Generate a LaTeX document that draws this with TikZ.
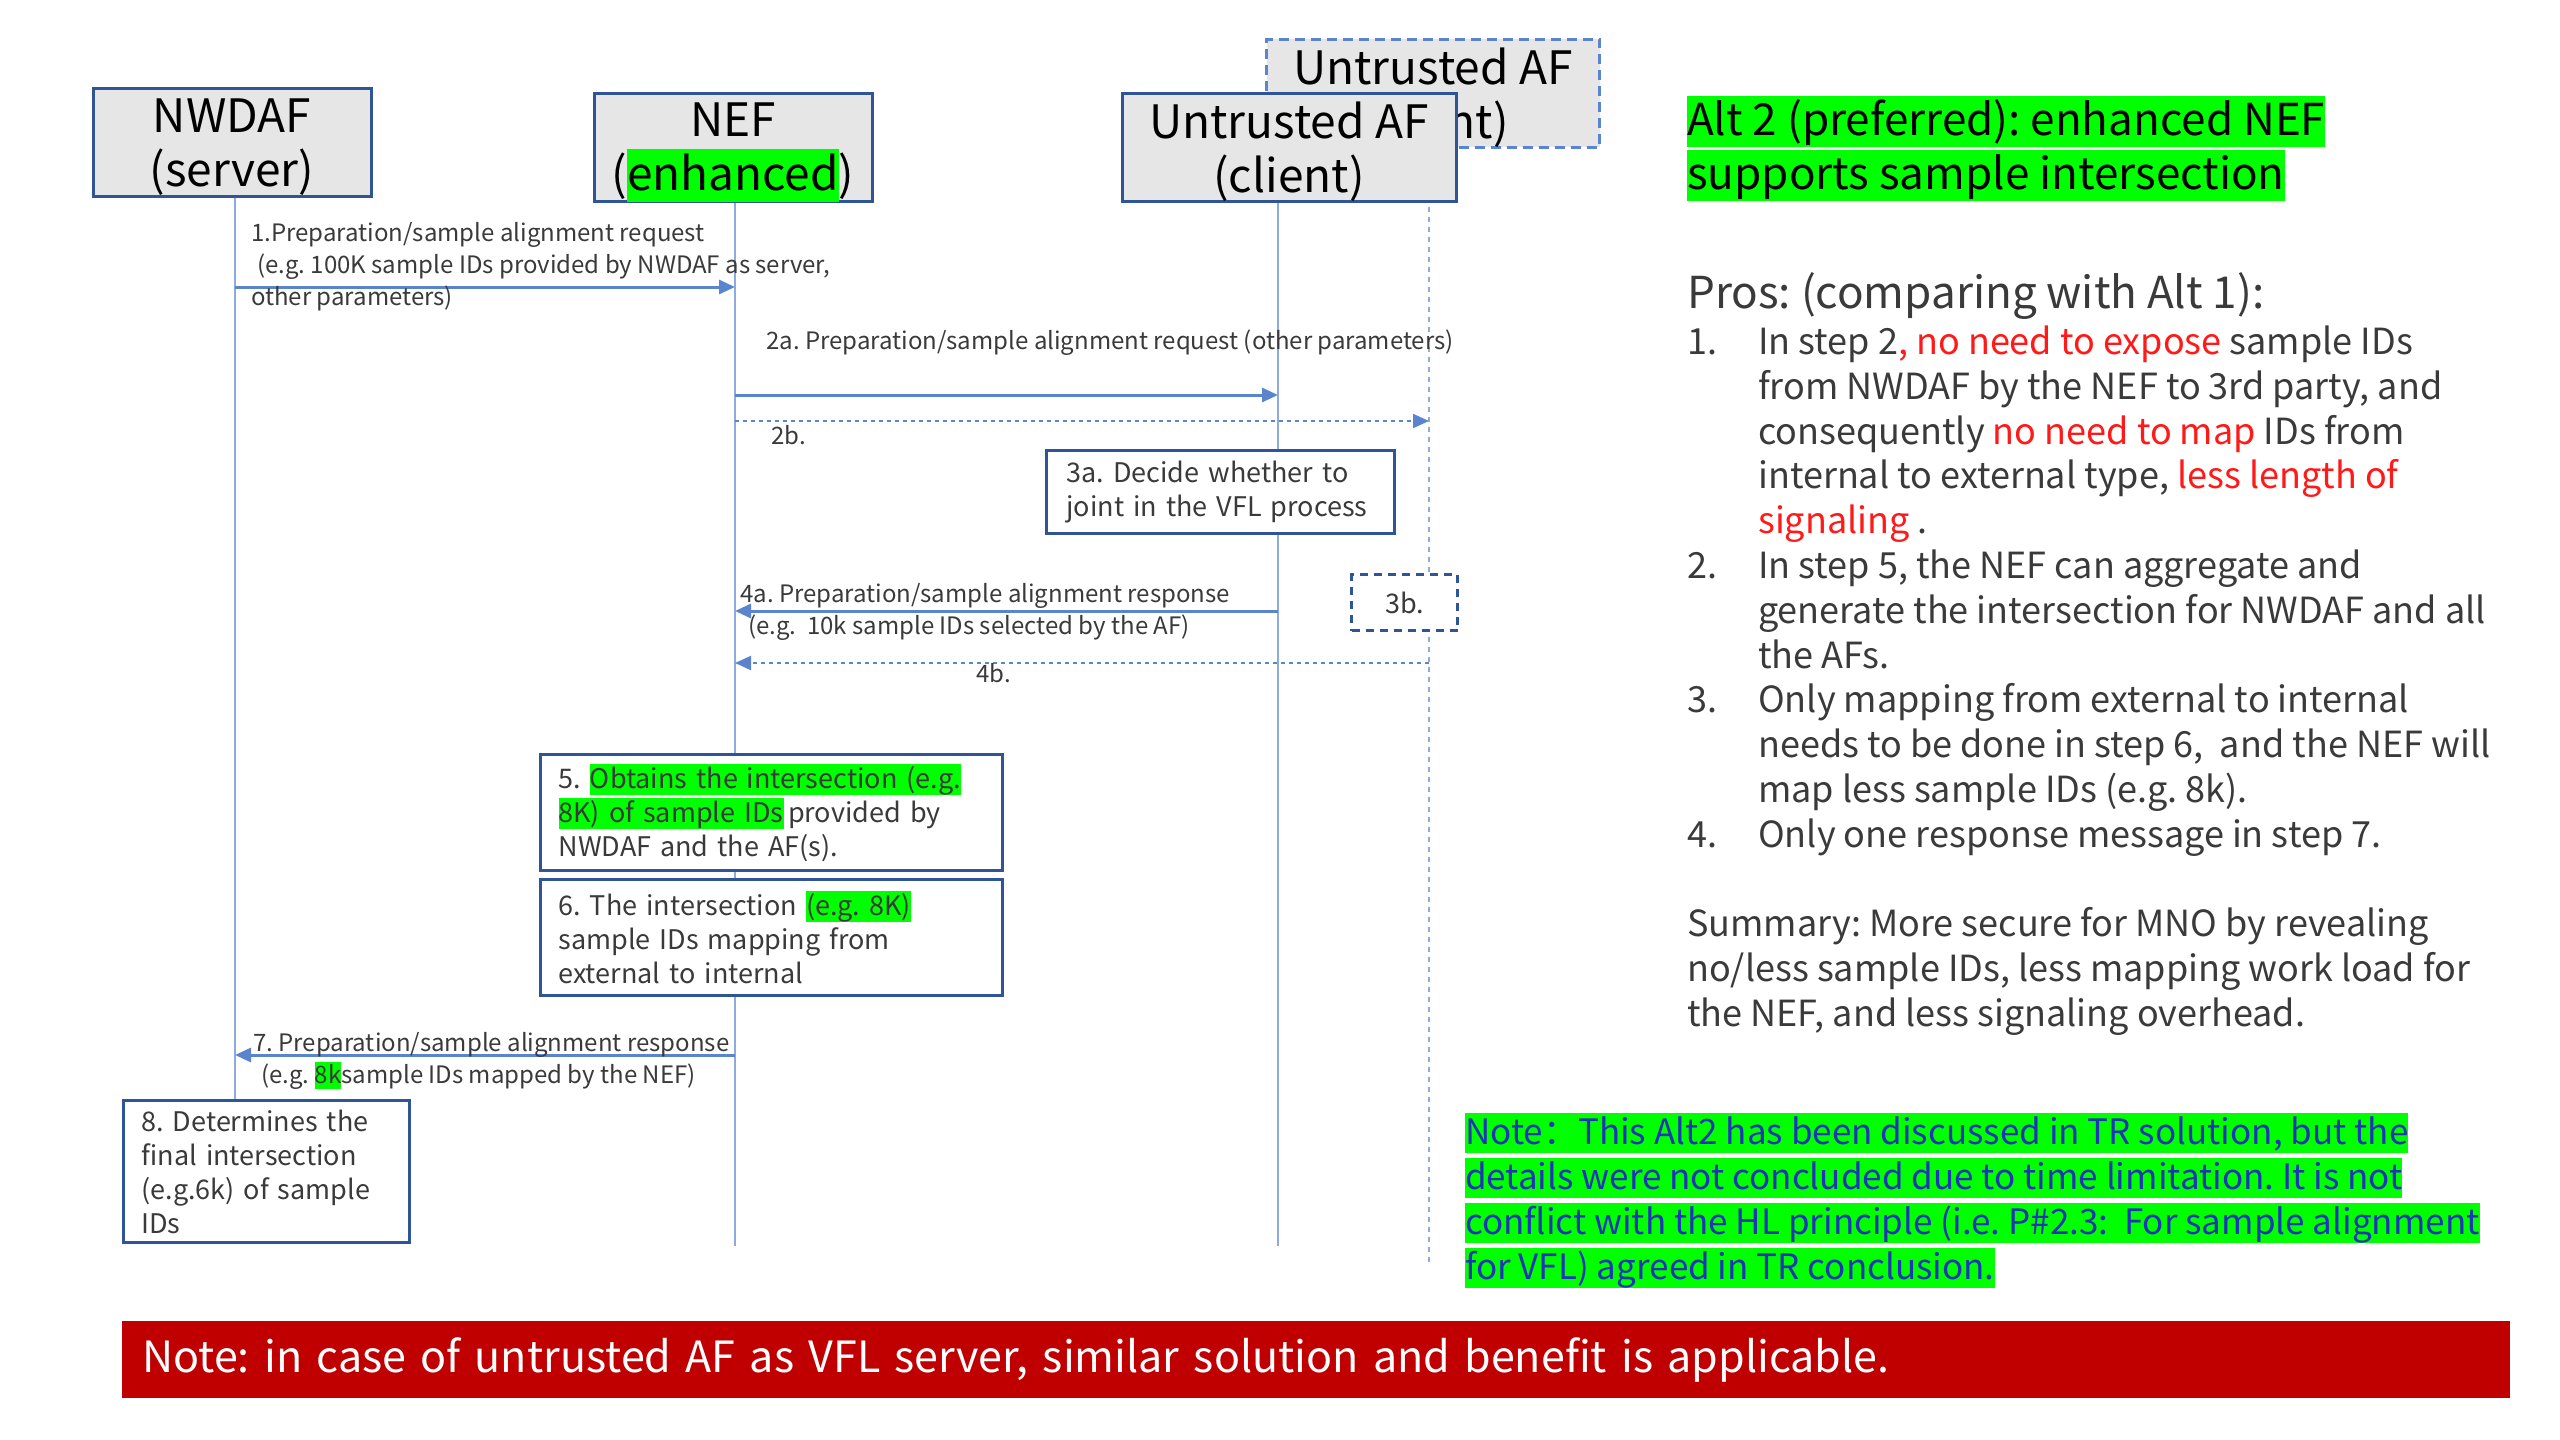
\documentclass[tikz,border=0pt]{standalone}
\usepackage{fontspec}
\setmainfont{Noto Sans CJK SC}
\usepackage{xcolor}
\usetikzlibrary{arrows.meta,positioning}
\definecolor{boxblue}{HTML}{2F5597}
\definecolor{lifeblue}{HTML}{8FAADC}
\definecolor{msgblue}{HTML}{5B84CF}
\definecolor{headgray}{HTML}{E7E6E6}
\definecolor{txtgray}{HTML}{3A3A3A}
\definecolor{hlgreen}{HTML}{00FF00}
\definecolor{prored}{HTML}{FF1A1A}
\definecolor{notered}{HTML}{C00000}
\definecolor{noteblue}{HTML}{1F35B5}
\newcommand{\fsz}[2]{\fontsize{#1}{#2}\selectfont}
\newcommand{\hlg}[1]{{\setlength{\fboxsep}{0pt}\colorbox{hlgreen}{\vrule height .9em depth .25em width 0pt#1}}}
\newcommand{\rd}[1]{\textcolor{prored}{#1}}
\frenchspacing
\hyphenpenalty=10000

\begin{document}
\begin{tikzpicture}[x=1pt,y=-1pt,
  >={Triangle[length=16pt,width=14pt]},
  head/.style={draw=boxblue,line width=3pt,fill=headgray,minimum width=278pt,minimum height=108pt,inner sep=0pt},
  headtxt/.style={align=center,inner sep=0pt,yshift=-5pt,font=\fsz{46}{54}},
  life/.style={lifeblue,line width=2pt},
  msg/.style={->,msgblue,line width=3pt},
  msgdot/.style={->,msgblue,line width=2pt,dash pattern=on 4pt off 4pt},
  lbl/.style={anchor=north west,inner sep=0pt,align=left,text=txtgray,font=\fsz{24}{32}},
  act/.style={draw=boxblue,line width=3pt,fill=white,anchor=north west,align=left,inner xsep=18pt,inner ysep=0pt,text=txtgray,font=\fsz{27}{34}},
  prose/.style={anchor=north west,inner sep=0pt,align=left,text=txtgray}
]
\fill[white] (0,0) rectangle (2560,1440);
\useasboundingbox (0,0) rectangle (2560,1440);

\coordinate (lnw) at (235,196);
\coordinate (lnef) at (735,201);
\coordinate (laf) at (1278,201);
\coordinate (ladf) at (1429,147);
\draw[life] (lnw) -- ++(0,903) coordinate (lnwend);
\draw[life] (lnef) -- ++(0,1045) coordinate (lnefend);
\draw[life] (laf) -- ++(0,1045) coordinate (lafend);
\draw[life,dash pattern=on 5pt off 5pt] (ladf) -- ++(0,1118) coordinate (ladfend);

\node[head,draw=msgblue,dash pattern=on 10pt off 6pt,minimum width=333pt,label={[headtxt]center:{Untrusted AF\\(client)}}] (afsrv) at (1433,93) {};
\node[head,label={[headtxt]center:{NWDAF\\(server)}}] (nwdaf) at (232,142) {};
\node[head,label={[headtxt]center:{NEF\\(\hlg{enhanced})}}] (nef) at (733,147) {};
\node[head,minimum width=334pt,label={[headtxt]center:{Untrusted AF\\(client)}}] (afcli) at (1289,147) {};

\coordinate (m1) at (0,287);
\coordinate (m2a) at (0,395);
\coordinate (m2b) at (0,421);
\coordinate (m4a) at (0,611);
\coordinate (m4b) at (0,663);
\coordinate (m7) at (0,1055);
\draw[msg] (lnw |- m1) -- (lnef |- m1);
\draw[msg] (lnef |- m2a) -- (laf |- m2a);
\draw[msgdot] (lnef |- m2b) -- (ladf |- m2b);
\draw[msg] (laf |- m4a) -- (lnef |- m4a);
\draw[msgdot] (ladf |- m4b) -- (lnef |- m4b);
\draw[msg] (lnef |- m7) -- (lnw |- m7);

\node[lbl] (l1) at (251,222) {1.Preparation/sample alignment request\\\hspace{6pt}(e.g. 100K sample IDs provided by NWDAF as server,\\other parameters)};
\node[lbl] (l2a) at (766,330) {2a. Preparation/sample alignment request (other parameters)};
\node[lbl] (l2b) at (771,425) {2b.};
\node[lbl] (l4a) at (740,583) {4a. Preparation/sample alignment response\\\hspace{8pt}(e.g.\ \ 10k sample IDs selected by the AF)};
\node[lbl] (l4b) at (976,663) {4b.};
\node[lbl] (l7) at (253,1032) {7. Preparation/sample alignment response\\\hspace{8pt}(e.g. \hlg{8k}sample IDs mapped by the NEF)};

\node[act,inner xsep=20pt,text width=308pt,minimum height=83pt] (s3a) at (1045,449) {3a. Decide whether to\\joint in the VFL process};
\node[act,dash pattern=on 8pt off 6pt,align=center,inner xsep=0pt,minimum width=106pt,minimum height=56pt] (s3b) at (1350,573) {3b.};
\node[act,text width=426pt,minimum height=116pt] (s5) at (539,753) {5. \hlg{Obtains the intersection (e.g.}\\\hlg{8K) of sample IDs}\,provided by\\NWDAF and the AF(s).};
\node[act,text width=426pt,minimum height=116pt] (s6) at (539,878) {6. The intersection \hlg{(e.g. 8K)}\\sample IDs mapping from\\external to internal};
\node[act,text width=250pt,minimum height=142pt] (s8) at (122,1099) {8. Determines the\\final intersection\\(e.g.6k) of sample\\IDs};

\node[prose,text=black,font=\fsz{44}{54}] (title) at (1687,96) {\hlg{Alt 2 (preferred): enhanced NEF}\\\hlg{supports sample intersection}};
\node[prose,anchor=west,font=\fsz{44}{50}] (pros) at (1687,296) {Pros: (comparing with Alt 1):};
\node[prose,font=\fsz{36}{44.8}] (items) at (1687,323) {\begin{tabular}{@{}p{71pt}@{}l@{}}
1. & In step 2\rd{, no need to expose} sample IDs\\
 & from NWDAF by the NEF to 3rd party, and\\
 & consequently \rd{no need to map} IDs from\\
 & internal to external type, \rd{less length of}\\
 & \rd{signaling} .\\
2. & In step 5, the NEF can aggregate and\\
 & generate the intersection for NWDAF and all\\
 & the AFs.\\
3. & Only mapping from external to internal\\
 & needs to be done in step 6,\ \ and the NEF will\\
 & map less sample IDs (e.g. 8k).\\
4. & Only one response message in step 7.\\
 & \\
\multicolumn{2}{@{}l@{}}{Summary: More secure for MNO by revealing}\\
\multicolumn{2}{@{}l@{}}{no/less sample IDs, less mapping work load for}\\
\multicolumn{2}{@{}l@{}}{the NEF, and less signaling overhead.}
\end{tabular}};

\node[prose,text=noteblue,font=\fsz{35}{45}] (note) at (1465,1113) {\hlg{Note：This Alt2 has been discussed in TR solution, but the}\\\hlg{details were not concluded due to time limitation. It is not}\\\hlg{conflict with the HL principle (i.e. P\#2.3:\ \ For sample alignment}\\\hlg{for VFL) agreed in TR conclusion.}};

\node[fill=notered,anchor=north west,minimum height=77pt,text width=2348pt,inner xsep=20pt,inner ysep=0pt,text=white,font=\fsz{43}{50}] (redbar) at (122,1321) {Note: in case of untrusted AF as VFL server, similar solution and benefit is applicable.};
\end{tikzpicture}
\end{document}
